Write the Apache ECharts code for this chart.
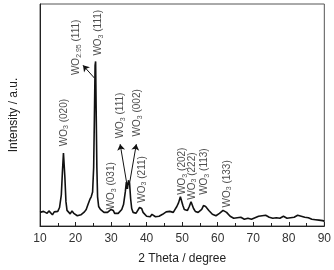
<!DOCTYPE html>
<html>
<head>
<meta charset="utf-8">
<script src="https://cdn.jsdelivr.net/npm/echarts@6/dist/echarts.min.js"></script>
<style>
  html, body { margin: 0; padding: 0; background: #fff; }
  #chart { width: 334px; height: 270px; }
</style>
</head>
<body>
<div id="chart"></div>
<script>
// XRD pattern, 2 theta (degree) vs intensity (a.u.)
const theta = [
  10, 10.5, 11, 11.5, 12, 12.5, 13, 13.5, 14, 14.5, 15, 15.5, 16, 16.3, 16.6, 16.8, 17, 17.3, 17.6,
  18, 18.5, 19, 19.5, 20, 20.5, 21, 21.5, 22, 22.5, 23, 23.5, 24, 24.4, 24.8, 25.1, 25.3, 25.5,
  25.65, 25.8, 26, 26.2, 26.5, 27, 27.5, 28, 28.5, 29, 29.5, 30, 30.3, 30.6, 31, 31.5, 32, 32.5,
  33, 33.5, 34, 34.3, 34.6, 34.9, 35.2, 35.5, 35.8, 36.2, 36.6, 37, 37.5, 38, 38.3, 38.6, 39,
  39.5, 40, 40.5, 41, 41.5, 42, 42.5, 43, 43.5, 44, 44.5, 45, 45.5, 46, 46.5, 47, 47.5, 48, 48.5,
  49, 49.5, 49.8, 50.2, 50.6, 51, 51.5, 52, 52.5, 52.8, 53.2, 53.7, 54, 54.5, 55, 55.5, 56, 56.3,
  56.6, 57, 57.5, 58, 58.5, 59, 59.5, 60, 60.5, 61, 61.5, 62, 62.5, 63, 63.5, 64, 64.5, 65, 65.5,
  66, 66.5, 67, 67.5, 68, 68.5, 69, 69.5, 70, 70.5, 71, 71.5, 72, 72.5, 73, 73.5, 74, 74.5, 75,
  75.5, 76, 76.5, 77, 77.5, 78, 78.5, 79, 79.5, 80, 80.5, 81, 81.5, 82, 82.5, 83, 83.5, 84, 84.5,
  85, 85.5, 86, 86.5, 87, 87.5, 88, 88.5, 89, 89.5, 90,
];
const intensity = [
  140, 125, 150, 135, 130, 155, 140, 115, 145, 130, 150, 190, 320, 550, 750, 730, 500, 250, 160,
  140, 125, 155, 130, 120, 105, 100, 115, 120, 145, 170, 220, 270, 300, 350, 600, 1100, 1650,
  1690, 1200, 600, 300, 200, 170, 150, 140, 125, 140, 155, 170, 190, 160, 130, 115, 130, 140,
  170, 220, 350, 450, 380, 470, 440, 280, 180, 140, 120, 130, 150, 190, 200, 180, 140,
  120, 100, 110, 95, 120, 100, 95, 110, 100, 115, 120, 130, 145, 160, 150, 130, 140, 170, 200,
  240, 300, 290, 210, 170, 150, 160, 200, 250, 240, 180, 150, 130, 140, 150, 170, 210, 230,
  200, 180, 160, 140, 120, 110, 105, 120, 130, 140, 160, 150, 140, 120, 100, 90, 80, 90, 85,
  100, 90, 80, 70, 75, 80, 80, 70, 80, 85, 90, 100, 110, 105, 120, 110, 110, 90, 90,
  80, 75, 85, 90, 80, 90, 100, 90, 80, 75, 85, 80, 90, 100, 110, 110, 100, 100, 90,
  80, 85, 75, 70, 75, 65, 60, 60, 50, 55, 50,
];

// peak annotations: vertical text, anchored at its bottom end
const peakPrefix = ["WO", "WO", "WO", "WO", "WO", "WO", "WO", "WO", "WO", "WO", "WO"];
const peakSub = ["3", "2.95", "3", "3", "3", "3", "3", "3", "3", "3", "3"];
const peakHkl = ["(020)", "(111)", "(111)", "(031)", "(111)", "(002)", "(211)", "(202)", "(222)", "(113)", "(133)"];
const peakTheta = [16.7, 20.2, 26.4, 30.1, 32.55, 37.4, 38.7, 50.0, 52.7, 56.2, 62.6];
const peakY = [820, 1550, 1750, 170, 900, 920, 240, 320, 270, 320, 190];

// arrows: [from theta, from y, to theta, to y]
const arrows = [
  [25.3, 1520, 22.1, 1650],
  [34.4, 440, 32.55, 840],
  [35.2, 440, 37.1, 840],
];

const chart = echarts.init(document.getElementById("chart"));

const font = "Liberation Sans, Arial, sans-serif";

chart.setOption({
  animation: false,
  grid: {
    left: 32,
    right: 4,
    top: 4,
    bottom: 38,
    show: true,
    borderColor: "#555",
    borderWidth: 1,
  },
  xAxis: {
    type: "value",
    min: 10,
    max: 90,
    interval: 10,
    name: "2 Theta / degree",
    nameLocation: "middle",
    nameGap: 27,
    nameTextStyle: { fontFamily: font, fontSize: 12, color: "#222" },
    axisLine: { lineStyle: { color: "#222", width: 1 } },
    axisTick: { inside: true, length: 4, lineStyle: { color: "#222" } },
    minorTick: { show: true, splitNumber: 2, length: 3, lineStyle: { color: "#222" } },
    axisLabel: { fontFamily: font, fontSize: 12, color: "#333", margin: 7 },
    splitLine: { show: false },
  },
  yAxis: {
    type: "value",
    min: 0,
    max: 2280,
    name: "Intensity / a.u.",
    nameLocation: "middle",
    nameGap: 20,
    nameTextStyle: { fontFamily: font, fontSize: 12, color: "#222" },
    axisLine: { show: true, lineStyle: { color: "#222", width: 1 } },
    axisTick: { show: false },
    axisLabel: { show: false },
    splitLine: { show: false },
  },
  series: [
    {
      type: "line",
      data: theta.map((t, i) => [t, intensity[i]]),
      showSymbol: false,
      lineStyle: { color: "#111", width: 1.6 },
    },
    {
      type: "scatter",
      symbolSize: 0,
      data: peakTheta.map((t, i) => [t, peakY[i], i]),
      label: {
        show: true,
        position: "inside",
        rotate: 90,
        align: "left",
        verticalAlign: "middle",
        formatter: (p) => {
          const i = p.data[2];
          return "{a|" + peakPrefix[i] + "}{s|" + peakSub[i] + "}{a| " + peakHkl[i] + "}";
        },
        rich: {
          a: { fontFamily: font, fontSize: 10, color: "#222", lineHeight: 12 },
          s: { fontFamily: font, fontSize: 7, color: "#222", lineHeight: 12, verticalAlign: "bottom", padding: [5, 0, 0, 0] },
        },
      },
      markLine: {
        silent: true,
        symbol: ["none", "arrow"],
        symbolSize: 6,
        label: { show: false },
        lineStyle: { color: "#111", width: 1, type: "solid" },
        data: arrows.map((a) => [{ coord: [a[0], a[1]] }, { coord: [a[2], a[3]] }]),
      },
    },
  ],
});

window.addEventListener("resize", () => {
  chart.resize();
});
</script>
</body>
</html>
